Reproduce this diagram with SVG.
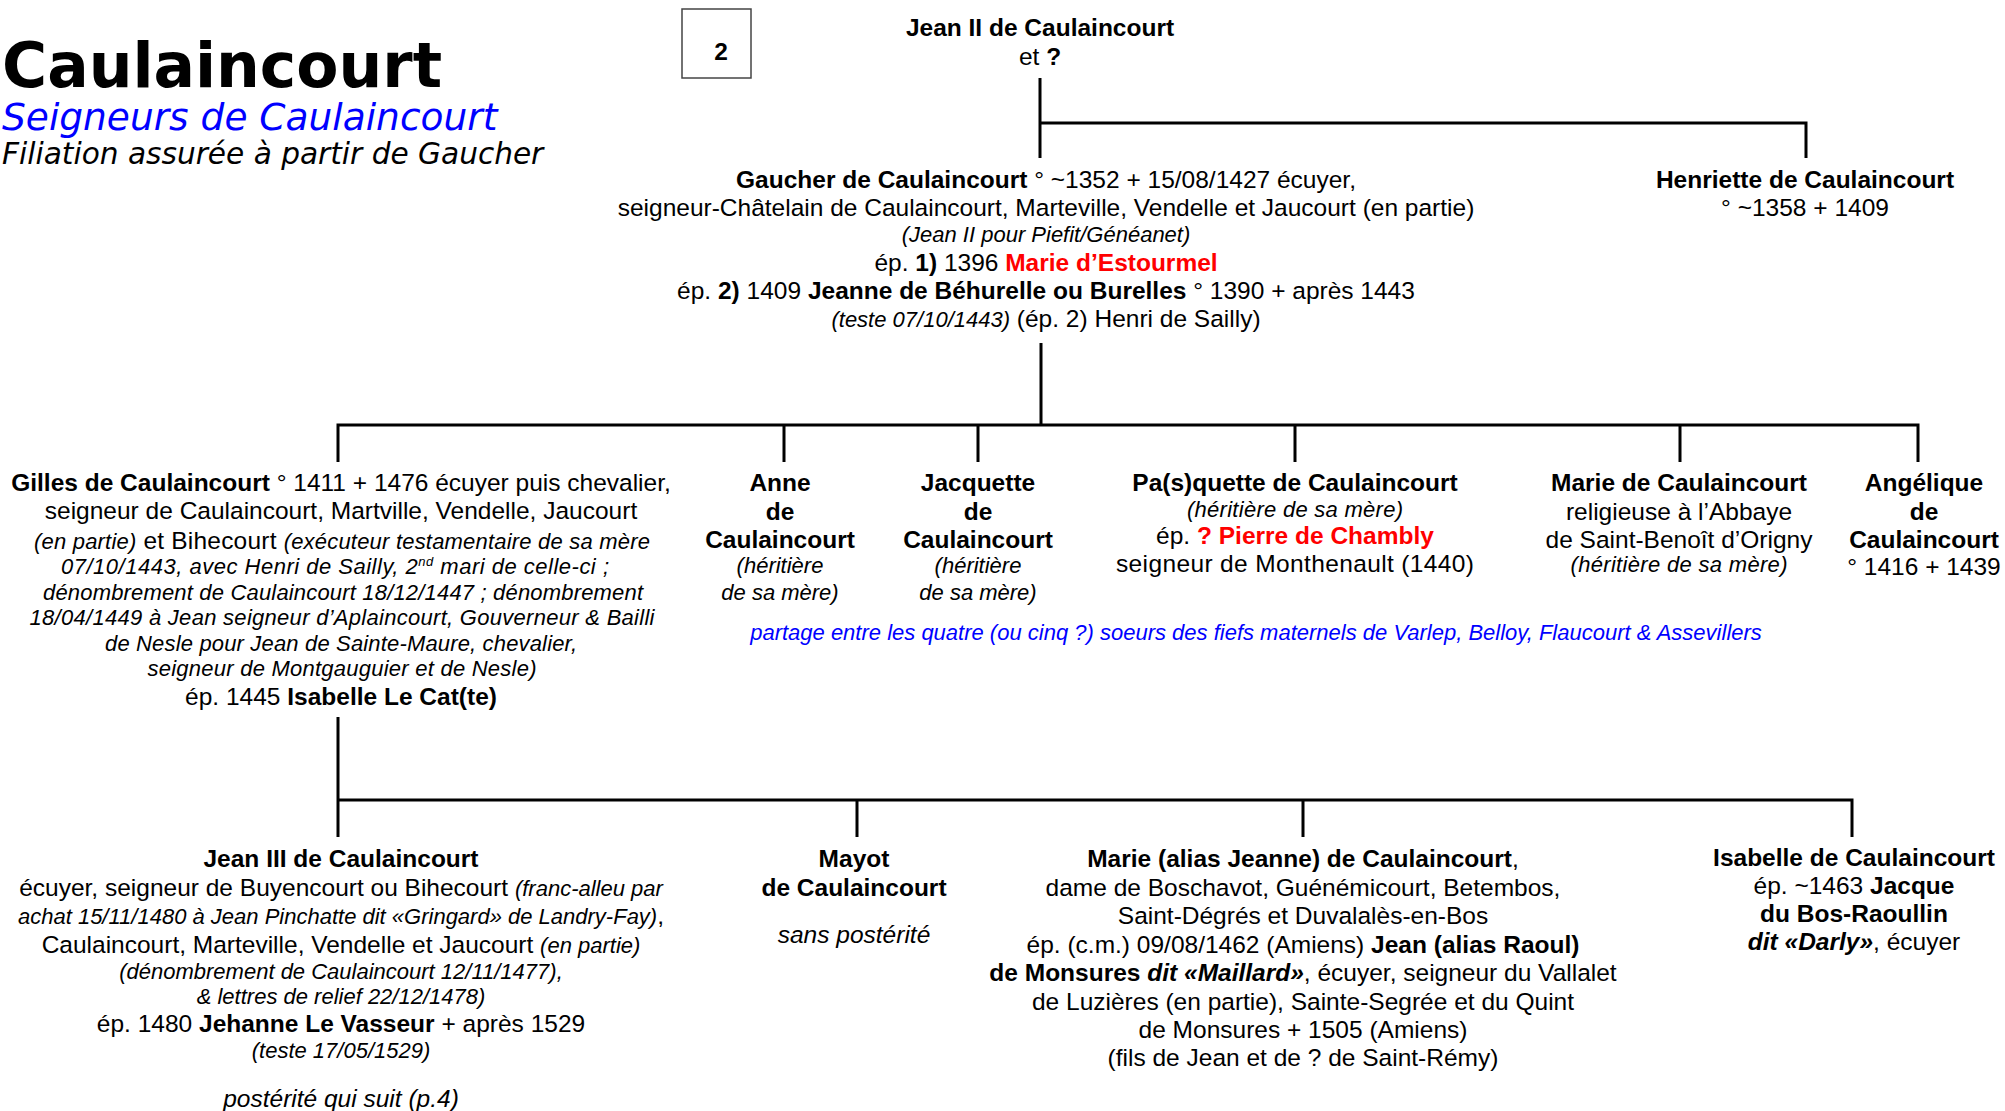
<svg xmlns="http://www.w3.org/2000/svg" width="2005" height="1111" viewBox="0 0 2005 1111">
<style>
.t{font-family:"Liberation Sans",Arial,sans-serif;font-size:24.5px;fill:#000;text-anchor:middle}
.b{font-weight:bold}
.i{font-style:italic}
.s{font-size:22px}
.red{fill:#ff0000}
.blue{fill:#0000ff}
.h{font-family:"DejaVu Sans",Verdana,sans-serif}
</style>
<rect width="2005" height="1111" fill="#fff"/>
<g id="title">
<text class="h" x="2" y="87" font-size="61.5" font-weight="bold">Caulaincourt</text>
<text class="h" x="2" y="130" font-size="37.5" font-style="italic" fill="#0000ff">Seigneurs de Caulaincourt</text>
<text class="h" x="2" y="164" font-size="29.6" font-style="italic">Filiation assurée à partir de Gaucher</text>
</g>
<g id="page">
<rect x="682" y="9" width="69" height="69" fill="none" stroke="#444" stroke-width="1.5"/>
<text class="t b" x="721" y="60" font-size="30">2</text>
</g>
<g id="connectors" fill="none" stroke="#000" stroke-width="3">
<path d="M1040 78 V158 M1040 123 H1806 V158"/>
<path d="M1041 343 V425 M338 462 V425 H1918 V462 M784 425 V462 M978 425 V462 M1295 425 V462 M1680 425 V462"/>
<path d="M338 717 V837 M338 800 H1852 V837 M857 800 V837 M1303 800 V837"/>
</g>
<g id="jean2">
<text class="t b" x="1040" y="36">Jean II de Caulaincourt</text>
<text class="t" x="1040" y="65">et <tspan class="b">?</tspan></text>
</g>
<g id="gaucher">
<text class="t" x="1046" y="188"><tspan class="b">Gaucher de Caulaincourt</tspan> ° ~1352 + 15/08/1427 écuyer,</text>
<text class="t" x="1046" y="216">seigneur-Châtelain de Caulaincourt, Marteville, Vendelle et Jaucourt (en partie)</text>
<text class="t i s" x="1046" y="242">(Jean II pour Piefit/Généanet)</text>
<text class="t" x="1046" y="271">ép. <tspan class="b">1)</tspan> 1396 <tspan class="b red">Marie d’Estourmel</tspan></text>
<text class="t" x="1046" y="299">ép. <tspan class="b">2)</tspan> 1409 <tspan class="b">Jeanne de Béhurelle ou Burelles</tspan> ° 1390 + après 1443</text>
<text class="t" x="1046" y="327"><tspan class="i s">(teste 07/10/1443)</tspan> (ép. 2) Henri de Sailly)</text>
</g>
<g id="henriette">
<text class="t b" x="1805" y="188">Henriette de Caulaincourt</text>
<text class="t" x="1805" y="216">° ~1358 + 1409</text>
</g>
<g id="gilles">
<text class="t" x="341" y="491"><tspan class="b">Gilles de Caulaincourt</tspan> ° 1411 + 1476 écuyer puis chevalier,</text>
<text class="t" x="341" y="519">seigneur de Caulaincourt, Martville, Vendelle, Jaucourt</text>
<text class="t" x="342" y="549" textLength="616" lengthAdjust="spacing"><tspan class="i s">(en partie)</tspan> et Bihecourt <tspan class="i s">(exécuteur testamentaire de sa mère</tspan></text>
<text class="t i s" x="335" y="574" textLength="548" lengthAdjust="spacing">07/10/1443, avec Henri de Sailly, 2<tspan dy="-8" font-size="13">nd</tspan><tspan dy="8"> mari de celle-ci ;</tspan></text>
<text class="t i s" x="343" y="600" textLength="600" lengthAdjust="spacing">dénombrement de Caulaincourt 18/12/1447 ; dénombrement</text>
<text class="t i s" x="342" y="625" textLength="625" lengthAdjust="spacing">18/04/1449 à Jean seigneur d’Aplaincourt, Gouverneur &amp; Bailli</text>
<text class="t i s" x="341" y="651" textLength="472" lengthAdjust="spacing">de Nesle pour Jean de Sainte-Maure, chevalier,</text>
<text class="t i s" x="342" y="676" textLength="389" lengthAdjust="spacing">seigneur de Montgauguier et de Nesle)</text>
<text class="t" x="341" y="705">ép. 1445 <tspan class="b">Isabelle Le Cat(te)</tspan></text>
</g>
<g id="anne">
<text class="t b" x="780" y="491">Anne</text>
<text class="t b" x="780" y="520">de</text>
<text class="t b" x="780" y="548">Caulaincourt</text>
<text class="t i s" x="780" y="573">(héritière</text>
<text class="t i s" x="780" y="600">de sa mère)</text>
</g>
<g id="jacquette">
<text class="t b" x="978" y="491">Jacquette</text>
<text class="t b" x="978" y="520">de</text>
<text class="t b" x="978" y="548">Caulaincourt</text>
<text class="t i s" x="978" y="573">(héritière</text>
<text class="t i s" x="978" y="600">de sa mère)</text>
</g>
<g id="pasquette">
<text class="t b" x="1295" y="491">Pa(s)quette de Caulaincourt</text>
<text class="t i s" x="1295" y="517" textLength="216" lengthAdjust="spacing">(héritière de sa mère)</text>
<text class="t" x="1295" y="544">ép. <tspan class="b red">? Pierre de Chambly</tspan></text>
<text class="t" x="1295" y="572" textLength="358" lengthAdjust="spacing">seigneur de Monthenault (1440)</text>
</g>
<g id="marie1">
<text class="t b" x="1679" y="491">Marie de Caulaincourt</text>
<text class="t" x="1679" y="520">religieuse à l’Abbaye</text>
<text class="t" x="1679" y="548">de Saint-Benoît d’Origny</text>
<text class="t i s" x="1679" y="572" textLength="217" lengthAdjust="spacing">(héritière de sa mère)</text>
</g>
<g id="angelique">
<text class="t b" x="1924" y="491">Angélique</text>
<text class="t b" x="1924" y="520">de</text>
<text class="t b" x="1924" y="548">Caulaincourt</text>
<text class="t" x="1924" y="575">° 1416 + 1439</text>
</g>
<g id="partage">
<text class="t i s blue" x="1256" y="640">partage entre les quatre (ou cinq ?) soeurs des fiefs maternels de Varlep, Belloy, Flaucourt &amp; Assevillers</text>
</g>
<g id="jean3">
<text class="t b" x="341" y="867">Jean III de Caulaincourt</text>
<text class="t" x="341" y="896">écuyer, seigneur de Buyencourt ou Bihecourt <tspan class="i s">(franc-alleu par</tspan></text>
<text class="t" x="341" y="924"><tspan class="i s">achat 15/11/1480 à Jean Pinchatte dit «Gringard» de Landry-Fay)</tspan>,</text>
<text class="t" x="341" y="953">Caulaincourt, Marteville, Vendelle et Jaucourt <tspan class="i s">(en partie)</tspan></text>
<text class="t i s" x="341" y="979">(dénombrement  de Caulaincourt 12/11/1477),</text>
<text class="t i s" x="341" y="1004">&amp; lettres de relief 22/12/1478)</text>
<text class="t" x="341" y="1032">ép. 1480 <tspan class="b">Jehanne Le Vasseur</tspan> + après 1529</text>
<text class="t i s" x="341" y="1058">(teste 17/05/1529)</text>
<text class="t i" x="341" y="1107">postérité qui suit (p.4)</text>
</g>
<g id="mayot">
<text class="t b" x="854" y="867">Mayot</text>
<text class="t b" x="854" y="896">de Caulaincourt</text>
<text class="t i" x="854" y="943">sans postérité</text>
</g>
<g id="marie2">
<text class="t" x="1303" y="867"><tspan class="b">Marie (alias Jeanne) de Caulaincourt</tspan>,</text>
<text class="t" x="1303" y="896">dame de Boschavot, Guénémicourt, Betembos,</text>
<text class="t" x="1303" y="924">Saint-Dégrés et Duvalalès-en-Bos</text>
<text class="t" x="1303" y="953">ép. (c.m.) 09/08/1462 (Amiens) <tspan class="b">Jean (alias Raoul)</tspan></text>
<text class="t" x="1303" y="981"><tspan class="b">de Monsures </tspan><tspan class="b i">dit «Maillard»</tspan>, écuyer, seigneur du Vallalet</text>
<text class="t" x="1303" y="1010">de Luzières (en partie), Sainte-Segrée et du Quint</text>
<text class="t" x="1303" y="1038">de Monsures + 1505 (Amiens)</text>
<text class="t" x="1303" y="1066">(fils de Jean et de ? de Saint-Rémy)</text>
</g>
<g id="isabelle">
<text class="t b" x="1854" y="866">Isabelle de Caulaincourt</text>
<text class="t" x="1854" y="894">ép. ~1463 <tspan class="b">Jacque</tspan></text>
<text class="t b" x="1854" y="922">du Bos-Raoullin</text>
<text class="t" x="1854" y="950"><tspan class="b i">dit «Darly»</tspan>, écuyer</text>
</g>
</svg>
